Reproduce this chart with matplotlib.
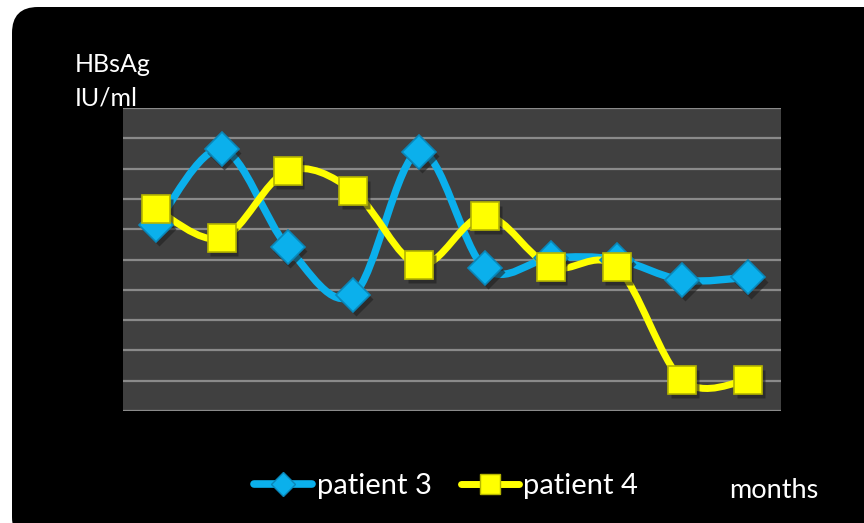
import numpy as np
import matplotlib
matplotlib.use('Agg')
import matplotlib.pyplot as plt
from matplotlib.path import Path
from matplotlib.patches import PathPatch, FancyBboxPatch
from matplotlib.lines import Line2D
import matplotlib.transforms as mtransforms

plt.rcParams['font.family'] = ['Lato', 'DejaVu Sans']

# HBsAg levels per month (arbitrary scale, 0-10)
months = np.arange(1, 11)
patient3 = [6.14, 8.64, 5.42, 3.83, 8.56, 4.71, 5.05, 5.00, 4.32, 4.41]
patient4 = [6.66, 5.70, 7.92, 7.26, 4.82, 6.45, 4.76, 4.76, 1.02, 1.02]

BLUE = '#0BB0EC'
YELLOW = '#FFFF00'

W, H = 864, 523
fig = plt.figure(figsize=(W / 100, H / 100), dpi=100)
fig.patch.set_facecolor('white')

# black rounded panel behind everything
panel = FancyBboxPatch((12 / W, -20 / H), 880 / W, (523 - 7 + 20) / H,
                       boxstyle='round,pad=0,rounding_size=0.03',
                       transform=fig.transFigure, facecolor='black',
                       edgecolor='none', zorder=-10, mutation_aspect=W / H)
fig.patches.append(panel)

ax = fig.add_axes([123 / W, (523 - 411) / H, (781 - 123) / W, (411 - 108) / H])
ax.set_facecolor('#404040')
ax.set_xlim(0.5, 10.5)
ax.set_ylim(0, 10)
ax.set_yticks(np.arange(0, 11))
ax.set_xticks([])
ax.grid(axis='y', color='#8a8a8a', linewidth=1.6)
ax.tick_params(left=False, labelleft=False)
for s in ax.spines.values():
    s.set_visible(False)


def smooth_path(x, y, t=1 / 6):
    # cubic bezier through every point, like a spreadsheet "smoothed line"
    pts = np.column_stack([x, y]).astype(float)
    n = len(pts)
    verts = [pts[0]]
    codes = [Path.MOVETO]
    for i in range(n - 1):
        p0 = pts[max(i - 1, 0)]
        p1 = pts[i]
        p2 = pts[i + 1]
        p3 = pts[min(i + 2, n - 1)]
        c1 = p1 + (p2 - p0) * t
        c2 = p2 - (p3 - p1) * t
        verts += [c1, c2, p2]
        codes += [Path.CURVE4] * 3
    return Path(verts, codes)


shadow = mtransforms.offset_copy(ax.transData, fig=fig, x=2, y=-3, units='points')

for ys, col, mk, ms, edge, lw in [
        (patient3, BLUE, 'D', 17, '#0A86B8', 5.3),
        (patient4, YELLOW, 's', 20.5, '#B5B500', 5.0)]:
    ax.add_patch(PathPatch(smooth_path(months, ys), facecolor='none',
                           edgecolor=col, linewidth=lw, capstyle='round',
                           zorder=3))
    ax.plot(months, ys, linestyle='none', marker=mk, markersize=ms,
            markerfacecolor='#202020', markeredgecolor='none', alpha=0.6,
            transform=shadow, zorder=4)
    ax.plot(months, ys, linestyle='none', marker=mk, markersize=ms,
            markerfacecolor=col, markeredgecolor=edge, markeredgewidth=1.2,
            zorder=5)

fig.text(75 / W, 1 - 72 / H, 'HBsAg', color='white', fontsize=18,
         va='baseline', ha='left')
fig.text(75 / W, 1 - 106 / H, 'IU/ml', color='white', fontsize=18,
         va='baseline', ha='left')
fig.text(729 / W, 1 - 498 / H, 'months', color='white', fontsize=19.5,
         va='baseline', ha='left')

handles = [
    Line2D([], [], color=BLUE, linewidth=5.5, marker='D', markersize=12,
           markerfacecolor=BLUE, markeredgecolor='#0A86B8',
           solid_capstyle='round'),
    Line2D([], [], color=YELLOW, linewidth=5.0, marker='s', markersize=15,
           markerfacecolor=YELLOW, markeredgecolor='#B5B500',
           solid_capstyle='round'),
]
leg = fig.legend(handles, ['patient 3', 'patient 4'], loc='center',
                 bbox_to_anchor=(446 / W, 1 - 486 / H), ncol=2,
                 frameon=False, fontsize=21, handlelength=2.0,
                 handletextpad=0.15, columnspacing=1.0)
for txt in leg.get_texts():
    txt.set_color('white')

fig.savefig('out.png', dpi=100, facecolor='white')
